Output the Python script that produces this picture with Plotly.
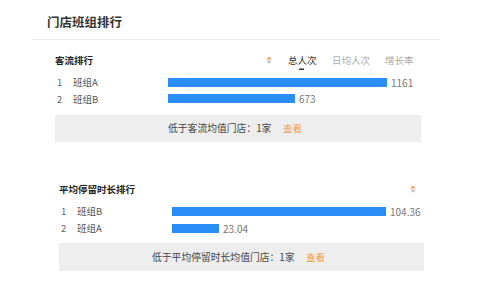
import plotly.graph_objects as go

W, H = 480, 286

title_text = "门店班组排行"
sec1_title = "客流排行"
sec1_names = ["班组A", "班组B"]
sec1_values = [1161, 673]
sec1_tabs = ["总人次", "日均人次", "增长率"]
sec1_note = "低于客流均值门店：1家"

sec2_title = "平均停留时长排行"
sec2_names = ["班组B", "班组A"]
sec2_values = [104.36, 23.04]
sec2_note = "低于平均停留时长均值门店：1家"
link_text = "查看"

FONT = "Noto Sans CJK SC"
BLUE = "#2a8ef6"
ORANGE = "#f39a45"


def px(x):
    return x / W


def py(y):
    return 1 - y / H


def fmt(v):
    return f"{v:g}"


fig = go.Figure()
fig.add_trace(go.Bar(x=sec1_values, y=sec1_names, orientation="h", width=0.52,
                     marker=dict(color=BLUE, line=dict(width=0)),
                     xaxis="x", yaxis="y", hoverinfo="skip"))
fig.add_trace(go.Bar(x=sec2_values, y=sec2_names, orientation="h", width=0.48,
                     marker=dict(color=BLUE, line=dict(width=0)),
                     xaxis="x2", yaxis="y2", hoverinfo="skip"))

ann = []
shapes = []


def text(x, y, s, size=10, color="#333", anchor="left", weight=None, xref="paper", yref="paper"):
    f = dict(family=FONT, size=size, color=color)
    if weight:
        f["weight"] = weight
    ann.append(dict(x=x, y=y, xref=xref, yref=yref, text=s, showarrow=False,
                    xanchor=anchor, yanchor="middle", font=f, borderpad=0))


# title and divider
text(px(46), py(22), title_text, size=12.5, color="#333", weight=600)
shapes.append(dict(type="line", xref="paper", yref="paper", x0=px(32), x1=px(440),
                   y0=py(39.5), y1=py(39.5), line=dict(color="#ececec", width=1)))


def sort_icon(cx, cy):
    shapes.append(dict(type="path", xref="paper", yref="paper",
                       path=f"M {px(cx-2.5)} {py(cy-0.5)} L {px(cx+2.5)} {py(cy-0.5)} L {px(cx)} {py(cy-3.5)} Z",
                       fillcolor=ORANGE, line=dict(width=0)))
    shapes.append(dict(type="path", xref="paper", yref="paper",
                       path=f"M {px(cx-2.5)} {py(cy+0.8)} L {px(cx+2.5)} {py(cy+0.8)} L {px(cx)} {py(cy+3.8)} Z",
                       fillcolor="#b8b8c8", line=dict(width=0)))


# section 1 header
text(px(54), py(60), sec1_title, size=9.5, color="#222", weight=700)
sort_icon(269, 60)
tab_x = [287, 331, 384]
for i, t in enumerate(sec1_tabs):
    text(px(tab_x[i]), py(60), t, size=9.5, color="#333" if i == 0 else "#aaa")
shapes.append(dict(type="rect", xref="paper", yref="paper", x0=px(299), x1=px(304),
                   y0=py(70), y1=py(68.5), fillcolor="#333", line=dict(width=0)))

# section 1 rows
for i, (n, v) in enumerate(zip(sec1_names, sec1_values)):
    text(px(56), n, str(i + 1), size=9.5, color="#666", yref="y")
    text(px(72), n, n, size=9.5, color="#555", yref="y")
    ann.append(dict(x=v, y=n, xref="x", yref="y", text=fmt(v), showarrow=False,
                    xanchor="left", yanchor="middle", xshift=3, borderpad=0,
                    font=dict(family=FONT, size=10, color="#777")))

# note box 1
shapes.append(dict(type="rect", xref="paper", yref="paper", x0=px(55), x1=px(421),
                   y0=py(142), y1=py(115), fillcolor="#eeeeee", line=dict(width=0), layer="below"))
text(px(167), py(128), sec1_note, size=9.8, color="#444")
text(px(282), py(128), link_text, size=9.5, color=ORANGE)

# section 2 header
text(px(58), py(189), sec2_title, size=9.5, color="#222", weight=700)
sort_icon(413, 189)

for i, (n, v) in enumerate(zip(sec2_names, sec2_values)):
    text(px(60), n, str(i + 1), size=9.5, color="#666", yref="y2")
    text(px(76), n, n, size=9.5, color="#555", yref="y2")
    ann.append(dict(x=v, y=n, xref="x2", yref="y2", text=fmt(v), showarrow=False,
                    xanchor="left", yanchor="middle", xshift=3, borderpad=0,
                    font=dict(family=FONT, size=10, color="#777")))

shapes.append(dict(type="rect", xref="paper", yref="paper", x0=px(59), x1=px(424),
                   y0=py(271), y1=py(243), fillcolor="#eeeeee", line=dict(width=0), layer="below"))
text(px(151), py(257), sec2_note, size=9.8, color="#444")
text(px(305), py(257), link_text, size=9.5, color=ORANGE)

axis_common = dict(showgrid=False, zeroline=False, showticklabels=False, showline=False, fixedrange=True)

fig.update_layout(
    width=W, height=H, margin=dict(l=0, r=0, t=0, b=0),
    paper_bgcolor="white", plot_bgcolor="rgba(0,0,0,0)",
    showlegend=False, bargap=0,
    xaxis=dict(domain=[px(168), px(387)], range=[0, max(sec1_values)], anchor="y", **axis_common),
    yaxis=dict(domain=[py(107.25), py(74.25)], range=[1.5, -0.5], type="category", anchor="x", **axis_common),
    xaxis2=dict(domain=[px(172), px(386)], range=[0, max(sec2_values)], anchor="y2", **axis_common),
    yaxis2=dict(domain=[py(236.5), py(202.5)], range=[1.5, -0.5], type="category", anchor="x2", **axis_common),
    annotations=ann, shapes=shapes,
)

fig.write_html("out.html")
